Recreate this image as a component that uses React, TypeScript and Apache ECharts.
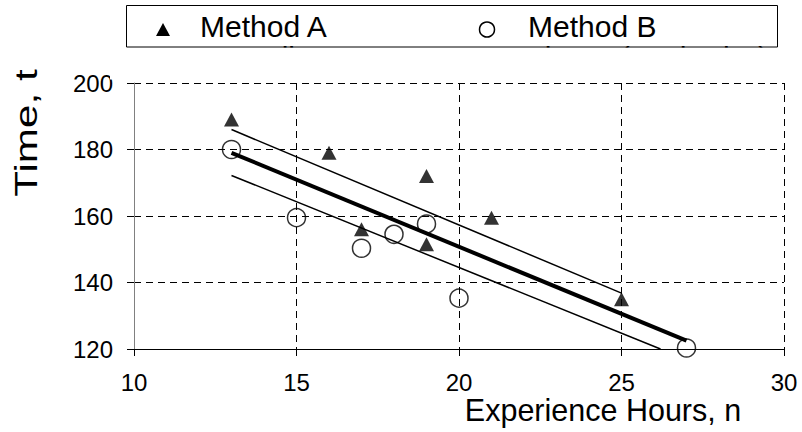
import React, { useEffect, useRef } from "react";
import * as echarts from "echarts";

const xTicks = { min: 10, max: 30, step: 5 };
const yTicks = { min: 120, max: 200, step: 20 };

const methodA: [number, number][] = [
  [13, 189], [16, 179], [17, 156], [19, 172], [19, 151.5], [21, 159.5], [25, 135],
];
const methodB: [number, number][] = [
  [13, 180], [15, 159.5], [17, 150.3], [18, 154.5], [19, 157.6], [20, 135.3], [27, 120.3],
];
const fitLine: [number, number][] = [[13, 179], [27, 122.5]];
const upperLine: [number, number][] = [[13, 186], [25, 136.8]];
const lowerLine: [number, number][] = [[13, 172.2], [26.2, 120]];

const legendRow1 = ["Method A", "Method B"];
const legendRow2 = ["Overall", "Linear (Method B)"];
const xTitle = "Experience Hours, n";
const yTitle = "Time, t";

const FONT = "'Liberation Sans', Arial, sans-serif";

export default function App() {
  const ref = useRef<HTMLDivElement>(null);
  useEffect(() => {
    if (!ref.current) return;
    const chart = echarts.init(ref.current, null, { renderer: "svg" });
    const dash = [7, 5];
    chart.setOption({
      animation: false,
      backgroundColor: "#ffffff",
      textStyle: { fontFamily: FONT },
      grid: { left: 134, top: 83, width: 650, height: 266, containLabel: false },
      xAxis: {
        type: "value",
        min: xTicks.min,
        max: xTicks.max,
        interval: xTicks.step,
        axisLine: { show: true, onZero: false, lineStyle: { color: "#000", width: 1 } },
        axisTick: { show: true, length: 7, lineStyle: { color: "#000" } },
        splitLine: { show: true, lineStyle: { color: "#000", type: dash, width: 1 } },
        axisLabel: {
          color: "#000",
          fontSize: 24,
          fontFamily: FONT,
          margin: 33,
          verticalAlign: "middle",
        },
      },
      yAxis: {
        type: "value",
        min: yTicks.min,
        max: yTicks.max,
        interval: yTicks.step,
        axisLine: { show: true, onZero: false, lineStyle: { color: "#808080", width: 1 } },
        axisTick: { show: true, length: 7, lineStyle: { color: "#000" } },
        splitLine: { show: true, lineStyle: { color: "#000", type: dash, width: 1 } },
        axisLabel: { color: "#000", fontSize: 24, fontFamily: FONT, margin: 21 },
      },
      series: [
        {
          name: legendRow1[1],
          type: "scatter",
          data: methodB,
          symbol: "circle",
          symbolSize: 18,
          itemStyle: { color: "rgba(0,0,0,0)", borderColor: "#000", borderWidth: 1.5 },
          z: 2,
        },
        {
          name: "Upper",
          type: "line",
          data: upperLine,
          showSymbol: false,
          symbol: "none",
          lineStyle: { color: "#000", width: 1.5 },
          z: 3,
        },
        {
          name: "Lower",
          type: "line",
          data: lowerLine,
          showSymbol: false,
          symbol: "none",
          lineStyle: { color: "#000", width: 1.5 },
          z: 3,
        },
        {
          name: legendRow2[1],
          type: "line",
          data: fitLine,
          showSymbol: false,
          symbol: "none",
          lineStyle: { color: "#000", width: 4 },
          z: 3,
        },
        {
          name: legendRow1[0],
          type: "scatter",
          data: methodA,
          symbol: "triangle",
          symbolSize: [15, 14],
          itemStyle: { color: "#000" },
          z: 4,
        },
      ],
      graphic: [
        {
          type: "rect",
          shape: { x: 126, y: 5, width: 652, height: 42 },
          style: { fill: "#fff", stroke: "none" },
          z: 10,
        },
        {
          type: "text",
          style: { text: legendRow2[0], x: 200, y: 57.5, fontSize: 30, fontFamily: FONT, fill: "#000", verticalAlign: "middle", align: "left" },
          z: 11,
        },
        {
          type: "text",
          style: { text: legendRow2[1], x: 528, y: 57.5, fontSize: 30, fontFamily: FONT, fill: "#000", verticalAlign: "middle", align: "left" },
          z: 11,
        },
        {
          type: "rect",
          shape: { x: 110, y: 47.5, width: 690, height: 32 },
          style: { fill: "#fff", stroke: "none" },
          z: 12,
        },
        {
          type: "rect",
          shape: { x: 126.5, y: 5.5, width: 651, height: 41.5 },
          style: { fill: "none", stroke: "#000", lineWidth: 1 },
          z: 13,
        },
        {
          type: "polygon",
          shape: { points: [[163, 23], [170, 36], [156, 36]] },
          style: { fill: "#000" },
          z: 13,
        },
        {
          type: "circle",
          shape: { cx: 487, cy: 29.5, r: 7.5 },
          style: { fill: "none", stroke: "#000", lineWidth: 1.5 },
          z: 13,
        },
        {
          type: "text",
          style: { text: legendRow1[0], x: 200, y: 26.5, fontSize: 30, fontFamily: FONT, fill: "#000", verticalAlign: "middle", align: "left" },
          z: 13,
        },
        {
          type: "text",
          style: { text: legendRow1[1], x: 528, y: 26.5, fontSize: 30, fontFamily: FONT, fill: "#000", verticalAlign: "middle", align: "left" },
          z: 13,
        },
        {
          type: "text",
          style: { text: xTitle, x: 603, y: 410, fontSize: 30.5, fontFamily: FONT, fill: "#000", verticalAlign: "middle", align: "center" },
          z: 13,
        },
        {
          type: "text",
          x: 26,
          y: 133,
          rotation: Math.PI / 2,
          scaleX: 1.32,
          style: { text: yTitle, x: 0, y: 0, fontSize: 32, fontFamily: FONT, fill: "#000", verticalAlign: "middle", align: "center" },
          z: 13,
        },
      ],
    });
    return () => chart.dispose();
  }, []);
  return (
    <div
      ref={ref}
      style={{ position: "fixed", left: 0, top: 0, width: 802, height: 432, background: "#fff" }}
    />
  );
}
